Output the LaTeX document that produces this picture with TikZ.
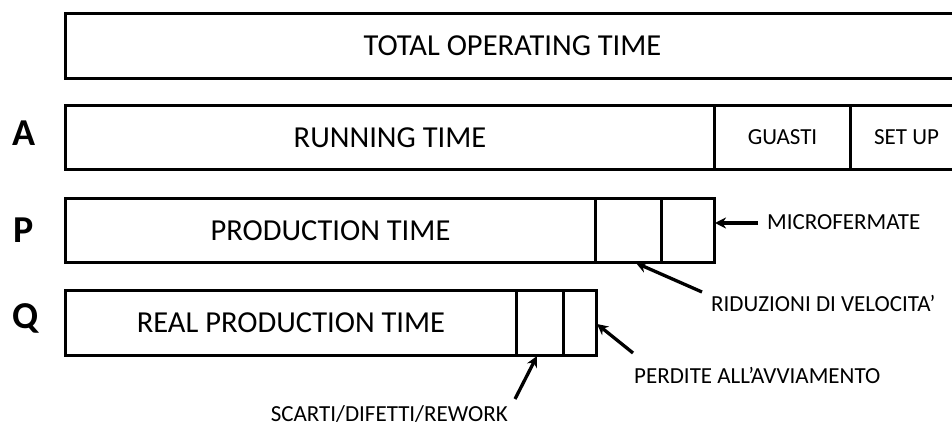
\documentclass[tikz,border=0pt]{standalone}
\usepackage{fontspec}
\setmainfont{Carlito}
\usetikzlibrary{arrows.meta}
\begin{document}
\begin{tikzpicture}[x=1pt,y=-1pt,
  cell/.style={draw, line width=3pt, rectangle, inner sep=0pt, anchor=north west,
    font=\fontsize{30.5}{33}\selectfont},
  smallcell/.style={cell, font=\fontsize{23}{26}\selectfont},
  rowtag/.style={font=\bfseries\fontsize{38}{42}\selectfont, inner sep=0pt},
  note/.style={font=\fontsize{23}{26}\selectfont, inner sep=0pt},
  pointer/.style={line width=3.3pt, -{Stealth[length=11pt,width=11pt]}}]
\useasboundingbox (0,0) rectangle (952,427);
\clip (0,0) rectangle (952,427);
\fill[white] (0,0) rectangle (952,427);

% total operating time
\node[cell, minimum width=894pt, minimum height=65pt] (tot) at (64,12) {TOTAL OPERATING TIME};

% availability row
\node[cell, minimum width=649pt, minimum height=64pt] (run) at (64,104) {RUNNING TIME};
\node[smallcell, minimum width=136pt, minimum height=64pt] (guasti) at (713,104) {GUASTI};
\node[smallcell, minimum width=112pt, minimum height=64pt] (setup) at (849,104) {SET UP};

% performance row
\node[cell, minimum width=530pt, minimum height=64pt] (prod) at (64,197) {PRODUCTION TIME};
\node[cell, minimum width=66pt, minimum height=64pt] (vel) at (594,197) {};
\node[cell, minimum width=53pt, minimum height=64pt] (micro) at (660,197) {};

% quality row
\node[cell, minimum width=451pt, minimum height=65pt] (real) at (64,289) {REAL PRODUCTION TIME};
\node[cell, minimum width=47pt, minimum height=65pt] (scarti) at (515,289) {};
\node[cell, minimum width=33pt, minimum height=65pt] (avv) at (562,289) {};

% row letters
\node[rowtag] (tA) at (24,133) {A};
\node[rowtag] (tP) at (24,230) {P};
\node[rowtag] (tQ) at (26,318) {Q};

% loss labels
\node[note, anchor=base west] (lmicro) at (767,230) {MICROFERMATE};
\node[note, anchor=base west] (lvel) at (711,312) {RIDUZIONI DI VELOCITA’};
\node[note, anchor=base west] (lavv) at (634,383) {PERDITE ALL’AVVIAMENTO};
\node[note, anchor=base east] (lscarti) at (508,421) {SCARTI/DIFETTI/REWORK};

% arrow ends
\coordinate (micro-tail) at (758,223);
\coordinate (micro-tip) at (715,223);
\coordinate (vel-tail) at (702,292);
\coordinate (vel-tip) at (636,263);
\coordinate (avv-tail) at (633,353);
\coordinate (avv-tip) at (597,324);
\coordinate (scarti-tail) at (515,399);
\coordinate (scarti-tip) at (537,356);

\draw[pointer] (micro-tail) -- (micro-tip);
\draw[pointer] (vel-tail) -- (vel-tip);
\draw[pointer] (avv-tail) -- (avv-tip);
\draw[pointer] (scarti-tail) -- (scarti-tip);
\end{tikzpicture}
\end{document}
